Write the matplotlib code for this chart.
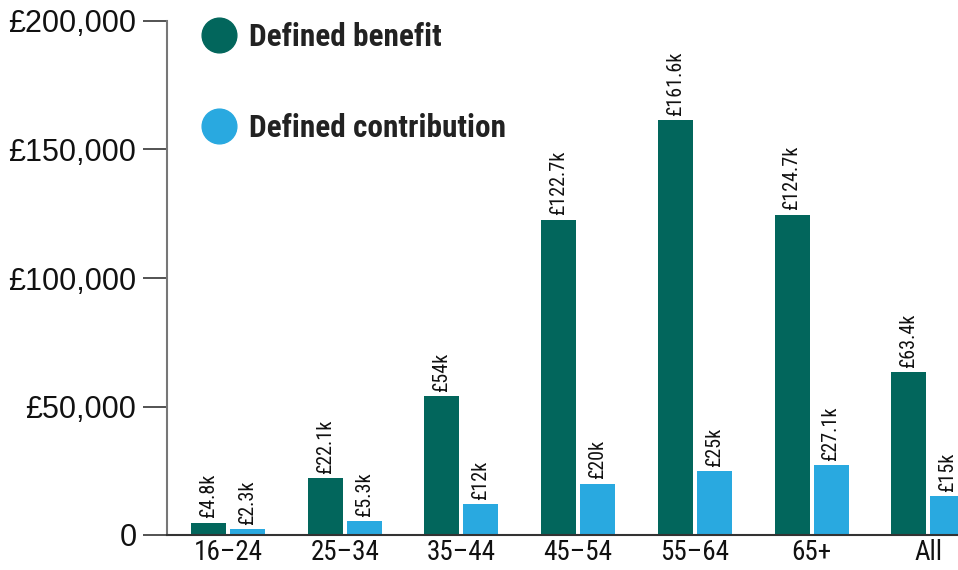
import matplotlib
matplotlib.use('Agg')
from matplotlib import pyplot as plt
from matplotlib.lines import Line2D
import numpy as np

# datos (en miles de libras)
grupos = ['16–24', '25–34', '35–44', '45–54', '55–64', '65+', 'All']
beneficio = [4.8, 22.1, 54, 122.7, 161.6, 124.7, 63.4]
contribucion = [2.3, 5.3, 12, 20, 25, 27.1, 15]
yticks = [0, 50000, 100000, 150000, 200000]
ytick_labels = ['0', '£50,000', '£100,000', '£150,000', '£200,000']

verde = '#02665c'
azul = '#29a9e0'
cond = ['Roboto Condensed', 'DejaVu Sans']
normal = ['Liberation Sans', 'DejaVu Sans']

fig = plt.figure(figsize=(9.58, 5.70), dpi=100)
ax = fig.add_axes([167/958, 35/570, 791/958, 514/570])

x = np.arange(len(grupos))
ancho = 0.30
desp = 0.167
db = ax.bar(x - desp, np.array(beneficio)*1000, ancho, color=verde)
dc = ax.bar(x + desp, np.array(contribucion)*1000, ancho, color=azul)

for barras, vals in [(db, beneficio), (dc, contribucion)]:
    ax.bar_label(barras, labels=[f'£{v:g}k' for v in vals], rotation=90,
                 padding=3, fontsize=14.5, color='#111111', family=cond)

ax.set_xlim(-0.523, 6.255)
ax.set_ylim(0, 200000)
ax.set_yticks(yticks)
ax.set_yticklabels(ytick_labels, family=normal, fontsize=22, color='#111111')
ax.set_xticks(x)
ax.set_xticklabels(grupos, family=cond, fontsize=19.5, color='#111111')
ax.tick_params(axis='y', length=17, width=1.3, color='#444444', pad=5)
ax.tick_params(axis='x', length=0, pad=3)

for s in ['top', 'right']:
    ax.spines[s].set_visible(False)
ax.spines['left'].set_color('#777777')
ax.spines['left'].set_linewidth(1.5)
ax.spines['bottom'].set_color('#333333')
ax.spines['bottom'].set_linewidth(1.5)

manijas = [Line2D([], [], marker='o', linestyle='', markersize=25, color=verde),
           Line2D([], [], marker='o', linestyle='', markersize=25, color=azul)]
leg = ax.legend(manijas, ['Defined benefit', 'Defined contribution'],
                loc='upper left', bbox_to_anchor=(0.044, 0.998), frameon=False,
                prop={'family': cond, 'weight': 'bold', 'size': 22.5},
                labelspacing=1.96, handlelength=1.08, handletextpad=0.42,
                borderpad=0, borderaxespad=0, labelcolor='#222222')

fig.savefig('out.png', dpi=100)
